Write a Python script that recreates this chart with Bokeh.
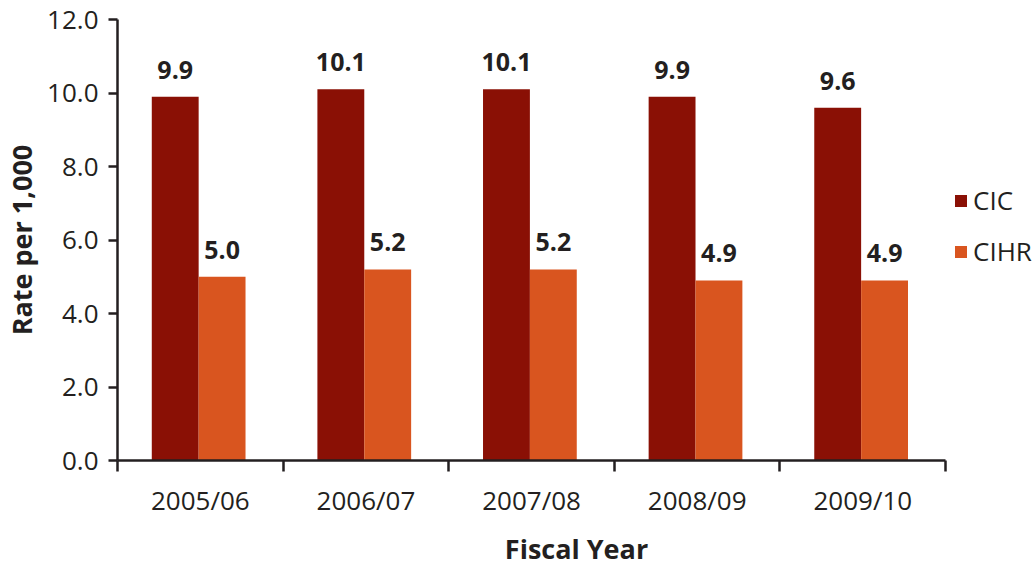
from bokeh.plotting import figure
from bokeh.models import ColumnDataSource, FixedTicker, Range1d, Legend, LegendItem
from bokeh.core.properties import value
from bokeh.embed import file_html
from bokeh.resources import INLINE

years = ["2005/06", "2006/07", "2007/08", "2008/09", "2009/10"]
cic = [9.9, 10.1, 10.1, 9.9, 9.6]
cihr = [5.0, 5.2, 5.2, 4.9, 4.9]
series_names = ["CIC", "CIHR"]
y_ticks = [0, 2, 4, 6, 8, 10, 12]

CIC_COLOR = "#8A1005"
CIHR_COLOR = "#D9551F"
TEXT = "#231F20"
FONT = "Open Sans"

n = len(years)
bar_w = 0.283
idx = list(range(n))
src = ColumnDataSource(dict(
    x_cic=[i + 0.49 - bar_w / 2 for i in idx],
    x_cihr=[i + 0.49 + bar_w / 2 for i in idx],
    cic=cic, cihr=cihr,
    cic_lbl=[f"{v:.1f}" for v in cic],
    cihr_lbl=[f"{v:.1f}" for v in cihr],
))

# frame extends to the right to host the legend; axis line is bounded to the categories
LEFT, RIGHT = 116, 0
frame_w = 1035 - LEFT - RIGHT
px_per_cat = 829 / n
p = figure(width=1035, height=569, output_backend="svg", toolbar_location=None,
           x_range=Range1d(0, frame_w / px_per_cat), y_range=Range1d(0, 12),
           min_border_left=LEFT, min_border_right=RIGHT, min_border_top=19, min_border_bottom=107)
p.outline_line_color = None
p.grid.grid_line_color = None
p.background_fill_color = "white"
p.border_fill_color = "white"

r1 = p.vbar(x="x_cic", top="cic", width=bar_w, source=src, fill_color=CIC_COLOR, line_color=None)
r2 = p.vbar(x="x_cihr", top="cihr", width=bar_w, source=src, fill_color=CIHR_COLOR, line_color=None)

for xcol, ycol, lcol in [("x_cic", "cic", "cic_lbl"), ("x_cihr", "cihr", "cihr_lbl")]:
    p.text(x=xcol, y=ycol, text=lcol, source=src, text_align="center", text_baseline="alphabetic",
           y_offset=-27, text_font=value(FONT), text_font_style="bold",
           text_font_size="25px", text_color=TEXT)

# x axis: category labels at centres, ticks at boundaries
xa = p.xaxis[0]
xa.bounds = (0, n)
xa.ticker = FixedTicker(ticks=[i + 0.5 for i in idx], minor_ticks=list(range(n + 1)))
xa.major_label_overrides = {i + 0.5: y for i, y in zip(idx, years)}
xa.major_tick_out = 0
xa.major_tick_in = 0
xa.minor_tick_out = 11
xa.minor_tick_in = 0
xa.minor_tick_line_width = 2.5
xa.minor_tick_line_color = TEXT
xa.major_label_standoff = 10
xa.axis_label = "Fiscal Year"
xa.axis_label_standoff = 9
xa.axis_label_text_font_size = "27px"

ya = p.yaxis[0]
ya.ticker = FixedTicker(ticks=y_ticks, minor_ticks=[])
ya.major_label_overrides = {t: f"{t:.1f}" for t in y_ticks}
ya.major_tick_out = 9
ya.major_tick_in = 0
ya.major_tick_line_width = 2.5
ya.major_tick_line_color = TEXT
ya.major_label_standoff = 10
ya.axis_label = "Rate per 1,000"
ya.axis_label_standoff = 4
ya.axis_label_text_font_size = "27px"

for ax in (xa, ya):
    ax.axis_line_width = 2.5
    ax.axis_line_color = TEXT
    ax.major_label_text_font = FONT
    ax.major_label_text_font_size = "26px"
    ax.major_label_text_color = TEXT
    ax.axis_label_text_font = FONT
    ax.axis_label_text_font_style = "bold"
    ax.axis_label_text_color = TEXT

legend = Legend(items=[LegendItem(label=series_names[0], renderers=[r1]),
                       LegendItem(label=series_names[1], renderers=[r2])],
                location=(836, 191), orientation="vertical",
                glyph_width=15, glyph_height=15, label_standoff=5,
                label_text_font=FONT, label_text_font_size="26px", label_text_color=TEXT,
                spacing=15, padding=0, margin=0,
                border_line_color=None, background_fill_alpha=0)
p.add_layout(legend, "center")

open("out.html", "w").write(file_html(p, INLINE))
